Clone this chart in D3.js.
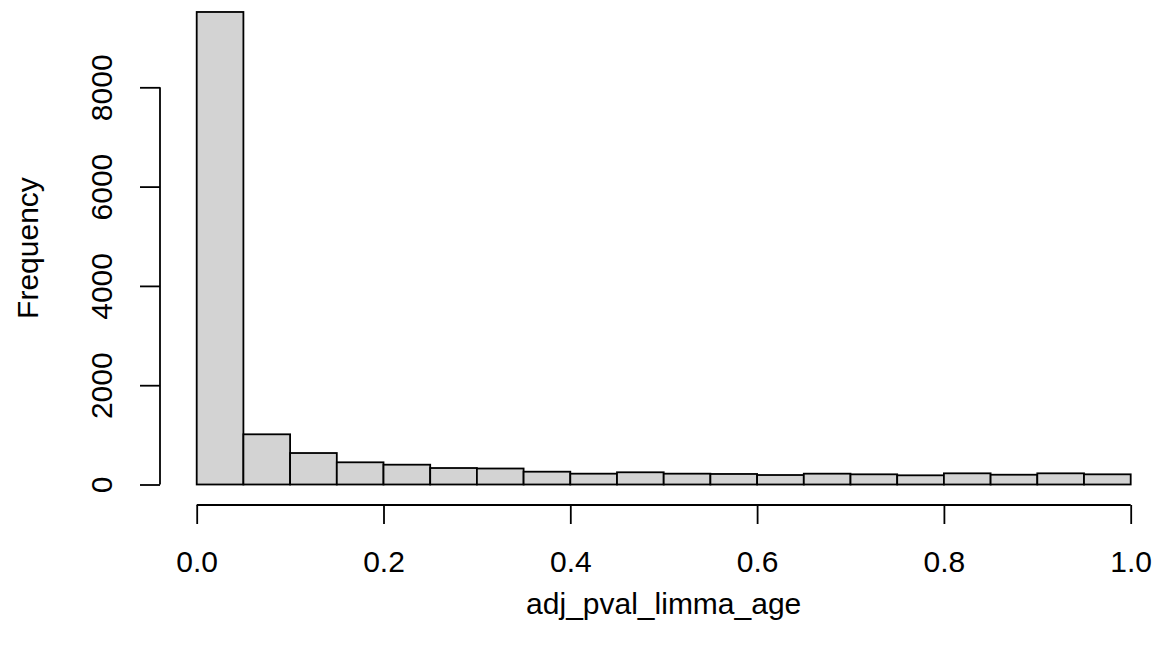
<!DOCTYPE html>
<html>
<head>
<meta charset="utf-8">
<script src="https://cdn.jsdelivr.net/npm/d3@7"></script>
<style>
  html, body { margin: 0; padding: 0; background: #fff; }
  svg { display: block; }
  text { font-family: "Liberation Sans", Arial, Helvetica, sans-serif; fill: #000; }
</style>
</head>
<body>
<svg id="chart" width="1160" height="658"></svg>
<script>
// Histogram of adjusted p-values, 20 bins of width 0.05
const binStarts = [0.00, 0.05, 0.10, 0.15, 0.20, 0.25, 0.30, 0.35, 0.40, 0.45,
                   0.50, 0.55, 0.60, 0.65, 0.70, 0.75, 0.80, 0.85, 0.90, 0.95];
const binWidth = 0.05;
const counts = [9517, 1011, 634, 447, 399, 332, 322, 258, 218, 246,
                218, 212, 191, 218, 205, 185, 225, 197, 225, 205];
const xTicks = [0.0, 0.2, 0.4, 0.6, 0.8, 1.0];
const yTicks = [0, 2000, 4000, 6000, 8000];
const xLabel = "adj_pval_limma_age";
const yLabel = "Frequency";

const FONT = 30;
const svg = d3.select("#chart");

const x = d3.scaleLinear().domain([0, 1]).range([196.7, 1130.7]);
const y = d3.scaleLinear().domain([0, 8000]).range([484.5, 87.3]);

// bars
svg.append("g")
  .selectAll("rect")
  .data(binStarts.map((s, i) => ({ x0: s, x1: s + binWidth, n: counts[i] })))
  .join("rect")
  .attr("x", d => x(d.x0))
  .attr("y", d => y(d.n))
  .attr("width", d => x(d.x1) - x(d.x0))
  .attr("height", d => y(0) - y(d.n))
  .attr("fill", "#d3d3d3")
  .attr("stroke", "#000")
  .attr("stroke-width", 1.8);

// x axis (detached below the bars)
const xAxis = d3.axisBottom(x)
  .tickValues(xTicks)
  .tickFormat(d3.format(".1f"))
  .tickSize(19)
  .tickSizeOuter(0);
const gx = svg.append("g")
  .attr("transform", "translate(0,505)")
  .call(xAxis);
gx.select(".domain").attr("stroke-width", 1.8).attr("d", `M${x(0)},0H${x(1)}`);
gx.selectAll(".tick line").attr("stroke-width", 1.8);
gx.selectAll(".tick text")
  .attr("font-size", FONT)
  .attr("font-family", "Liberation Sans, Arial, sans-serif")
  .attr("y", 67)
  .attr("dy", null);

// y axis (detached left of the bars)
const yAxis = d3.axisLeft(y)
  .tickValues(yTicks)
  .tickFormat(d3.format("d"))
  .tickSize(20)
  .tickSizeOuter(0);
const gy = svg.append("g")
  .attr("transform", "translate(160,0)")
  .call(yAxis);
gy.select(".domain").attr("stroke-width", 1.8).attr("d", `M0,${y(0)}V${y(8000)}`);
gy.selectAll(".tick line").attr("stroke-width", 1.8);
gy.selectAll(".tick text")
  .attr("font-size", FONT)
  .attr("font-family", "Liberation Sans, Arial, sans-serif")
  .attr("x", null)
  .attr("text-anchor", "middle")
  .attr("transform", "translate(-59,0) rotate(-90)")
  .attr("dy", "0.35em");

// axis titles
svg.append("text")
  .attr("x", (x(0) + x(1)) / 2)
  .attr("y", 614)
  .attr("text-anchor", "middle")
  .attr("font-size", FONT)
  .text(xLabel);

svg.append("text")
  .attr("transform", "translate(27,248) rotate(-90)")
  .attr("text-anchor", "middle")
  .attr("dy", "0.35em")
  .attr("font-size", FONT)
  .text(yLabel);
</script>
</body>
</html>
